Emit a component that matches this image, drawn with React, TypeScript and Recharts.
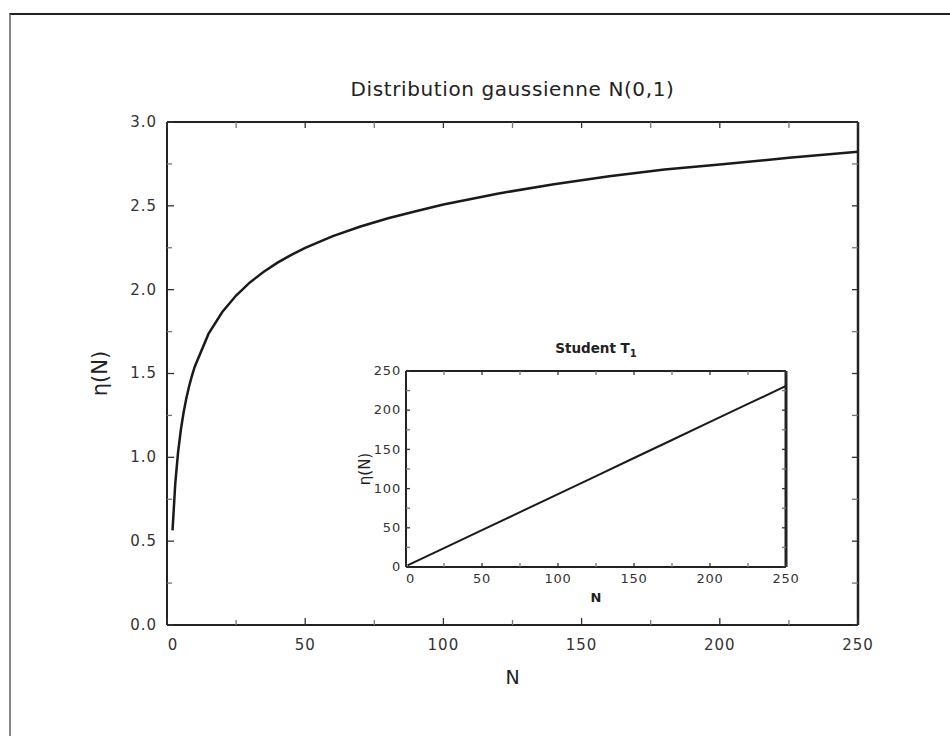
import React from 'react';
import { LineChart, Line, XAxis, YAxis, Label } from 'recharts';

// ---------- data ----------
const gaussN = [2, 3, 4, 5, 6, 7, 8, 9, 10, 15, 20, 25, 30, 35, 40, 45, 50, 60, 70, 80, 90, 100, 120, 140, 160, 180, 200, 225, 250];
const gaussEta = [0.564, 0.846, 1.029, 1.163, 1.267, 1.352, 1.424, 1.485, 1.539, 1.736, 1.867, 1.965, 2.043, 2.107, 2.161, 2.208, 2.249, 2.319, 2.377, 2.426, 2.468, 2.508, 2.574, 2.629, 2.676, 2.717, 2.746, 2.787, 2.822];

const studentN = [1, 25, 50, 75, 100, 125, 150, 175, 200, 225, 250];
const studentEta = [2, 24, 47, 70, 93, 116, 139, 162, 185, 208, 231];

const mainXTicks = [0, 25, 50, 75, 100, 125, 150, 175, 200, 225, 250];
const mainXLabelStep = 50;
const mainYTicks = [0, 0.25, 0.5, 0.75, 1, 1.25, 1.5, 1.75, 2, 2.25, 2.5, 2.75, 3];
const mainYLabelStep = 0.5;

const insetXTicks = [0, 25, 50, 75, 100, 125, 150, 175, 200, 225, 250];
const insetYTicks = [0, 25, 50, 75, 100, 125, 150, 175, 200, 225, 250];
const insetLabelStep = 50;

const mainTitle = 'Distribution gaussienne N(0,1)';
const yTitle = 'η(N)';
const xTitle = 'N';
const insetTitle = 'Student T';
const insetSub = '1';

const gaussData = gaussN.map((n, i) => ({ n, eta: gaussEta[i] }));
const studentData = studentN.map((n, i) => ({ n, eta: studentEta[i] }));

const FONT = "'DejaVu Sans', 'Liberation Sans', sans-serif";
const INK = '#222';
const TXT = '#333';

const isMajor = (v: number, step: number) => Math.abs(v / step - Math.round(v / step)) < 1e-9;

// ---------- tick renderers ----------
type TickOpts = {
  side: 'bottom' | 'top' | 'left' | 'right';
  step: number;
  major: number;
  minor: number;
  labels: boolean;
  fontSize: number;
  spacing: number;
  zeroShift: number;
  gap: number;
  decimals: number;
};

const makeTick = (o: TickOpts) => (props: any) => {
  const { x, y, payload } = props;
  const v: number = payload.value;
  const mj = isMajor(v, o.step);
  const len = mj ? o.major : o.minor;
  let line;
  if (o.side === 'bottom') line = { x1: x, y1: y, x2: x, y2: y - len };
  else if (o.side === 'top') line = { x1: x, y1: y, x2: x, y2: y + len };
  else if (o.side === 'left') line = { x1: x, y1: y, x2: x + len, y2: y };
  else line = { x1: x, y1: y, x2: x - len, y2: y };
  const txt = o.decimals > 0 ? v.toFixed(o.decimals) : String(v);
  return (
    <g>
      <line {...line} stroke={mj ? '#333' : '#777'} strokeWidth={1.3} />
      {o.labels && mj && o.side === 'bottom' && (
        <text
          x={x + (v === 0 ? o.zeroShift : 0)}
          y={y + o.gap}
          textAnchor="middle"
          fontFamily={FONT}
          fontSize={o.fontSize}
          letterSpacing={o.spacing}
          fill={TXT}
        >
          {txt}
        </text>
      )}
      {o.labels && mj && o.side === 'left' && (
        <text
          x={x - o.gap}
          y={y + o.fontSize * 0.33}
          textAnchor="end"
          fontFamily={FONT}
          fontSize={o.fontSize}
          letterSpacing={o.spacing}
          fill={TXT}
        >
          {txt}
        </text>
      )}
    </g>
  );
};

const MainBottomTick = makeTick({ side: 'bottom', step: mainXLabelStep, major: 7, minor: 5, labels: true, fontSize: 15, spacing: 1, zeroShift: 6, gap: 25, decimals: 0 });
const MainTopTick = makeTick({ side: 'top', step: mainXLabelStep, major: 6, minor: 6, labels: false, fontSize: 15, spacing: 1, zeroShift: 0, gap: 0, decimals: 0 });
const MainLeftTick = makeTick({ side: 'left', step: mainYLabelStep, major: 7, minor: 5, labels: true, fontSize: 15, spacing: 1, zeroShift: 0, gap: 10, decimals: 1 });
const MainRightTick = makeTick({ side: 'right', step: mainYLabelStep, major: 6, minor: 6, labels: false, fontSize: 15, spacing: 1, zeroShift: 0, gap: 0, decimals: 1 });

const InsetBottomTick = makeTick({ side: 'bottom', step: insetLabelStep, major: 4, minor: 4, labels: true, fontSize: 13, spacing: 0.8, zeroShift: 4.5, gap: 15.5, decimals: 0 });
const InsetTopTick = makeTick({ side: 'top', step: insetLabelStep, major: 4, minor: 4, labels: false, fontSize: 13, spacing: 0.8, zeroShift: 0, gap: 0, decimals: 0 });
const InsetLeftTick = makeTick({ side: 'left', step: insetLabelStep, major: 4, minor: 4, labels: true, fontSize: 13, spacing: 0.8, zeroShift: 0, gap: 5, decimals: 0 });
const InsetRightTick = makeTick({ side: 'right', step: insetLabelStep, major: 4, minor: 4, labels: false, fontSize: 13, spacing: 0.8, zeroShift: 0, gap: 0, decimals: 0 });

// ---------- label renderers ----------
const MainTitleLabel = (props: any) => {
  const vb = props.viewBox;
  return (
    <text x={vb.x + vb.width / 2} y={vb.y - 25} textAnchor="middle" fontFamily={FONT} fontSize={20} letterSpacing={0.6} fill={INK}>
      {mainTitle}
    </text>
  );
};
const MainXLabel = (props: any) => {
  const vb = props.viewBox;
  return (
    <text x={vb.x + vb.width / 2} y={vb.y + 59} textAnchor="middle" fontFamily={FONT} fontSize={19} fill={INK}>
      {xTitle}
    </text>
  );
};
const MainYLabel = (props: any) => {
  const vb = props.viewBox;
  const cx = vb.x - 66;
  const cy = vb.y + vb.height / 2;
  return (
    <text x={cx} y={cy} transform={`rotate(-90 ${cx} ${cy})`} textAnchor="middle" dominantBaseline="central" fontFamily={FONT} fontSize={21} fill={INK}>
      {yTitle}
    </text>
  );
};
const InsetTitleLabel = (props: any) => {
  const vb = props.viewBox;
  return (
    <text x={vb.x + vb.width / 2} y={vb.y - 17} textAnchor="middle" fontFamily={FONT} fontSize={13.5} fontWeight="bold" fill={INK}>
      {insetTitle}
      <tspan fontSize={10} dy={4}>{insetSub}</tspan>
    </text>
  );
};
const InsetXLabel = (props: any) => {
  const vb = props.viewBox;
  return (
    <text x={vb.x + vb.width / 2} y={vb.y + 35} textAnchor="middle" fontFamily={FONT} fontSize={13} fontWeight="bold" fill={INK}>
      {xTitle}
    </text>
  );
};
const InsetYLabel = (props: any) => {
  const vb = props.viewBox;
  const cx = vb.x - 40;
  const cy = vb.y + vb.height / 2;
  return (
    <text x={cx} y={cy} transform={`rotate(-90 ${cx} ${cy})`} textAnchor="middle" dominantBaseline="central" fontFamily={FONT} fontSize={15} fill={INK}>
      {yTitle}
    </text>
  );
};

const W = 950;
const H = 736;

export default function App() {
  return (
    <div style={{ position: 'absolute', left: 0, top: 0, width: W, height: H, overflow: 'hidden', background: '#fff' }}>
      <div
        style={{
          position: 'absolute',
          left: 9,
          top: 13,
          width: 1000,
          height: 800,
          borderTop: '2px solid #222',
          borderLeft: '2px solid #888',
        }}
      />
      <div style={{ position: 'absolute', left: 0, top: 0 }}>
        <LineChart width={W} height={H} data={gaussData} margin={{ top: 121, right: 91, bottom: 110, left: 166 }}>
          <XAxis xAxisId="b" dataKey="n" type="number" orientation="bottom" domain={[0, 250]} allowDataOverflow ticks={mainXTicks} interval={0} height={1} tickSize={0} tickMargin={0} tickLine={false} tick={MainBottomTick} axisLine={{ stroke: INK, strokeWidth: 2 }}>
            <Label content={MainXLabel} />
          </XAxis>
          <XAxis xAxisId="t" dataKey="n" type="number" orientation="top" domain={[0, 250]} allowDataOverflow ticks={mainXTicks} interval={0} height={1} tickSize={0} tickMargin={0} tickLine={false} tick={MainTopTick} axisLine={{ stroke: INK, strokeWidth: 2 }}>
            <Label content={MainTitleLabel} />
          </XAxis>
          <YAxis yAxisId="l" type="number" orientation="left" domain={[0, 3]} allowDataOverflow ticks={mainYTicks} interval={0} width={1} tickSize={0} tickMargin={0} tickLine={false} tick={MainLeftTick} axisLine={{ stroke: INK, strokeWidth: 2 }}>
            <Label content={MainYLabel} />
          </YAxis>
          <YAxis yAxisId="r" type="number" orientation="right" domain={[0, 3]} allowDataOverflow ticks={mainYTicks} interval={0} width={1} tickSize={0} tickMargin={0} tickLine={false} tick={MainRightTick} axisLine={{ stroke: INK, strokeWidth: 2.5 }} />
          <Line xAxisId="b" yAxisId="l" dataKey="eta" type="linear" dot={false} stroke="#1a1a1a" strokeWidth={2.5} isAnimationActive={false} />
        </LineChart>
      </div>
      <div style={{ position: 'absolute', left: 0, top: 0 }}>
        <LineChart width={W} height={H} data={studentData} margin={{ top: 370, right: 163, bottom: 168, left: 405 }}>
          <XAxis xAxisId="b" dataKey="n" type="number" orientation="bottom" domain={[0, 250]} allowDataOverflow ticks={insetXTicks} interval={0} height={1} tickSize={0} tickMargin={0} tickLine={false} tick={InsetBottomTick} axisLine={{ stroke: INK, strokeWidth: 2 }}>
            <Label content={InsetXLabel} />
          </XAxis>
          <XAxis xAxisId="t" dataKey="n" type="number" orientation="top" domain={[0, 250]} allowDataOverflow ticks={insetXTicks} interval={0} height={1} tickSize={0} tickMargin={0} tickLine={false} tick={InsetTopTick} axisLine={{ stroke: INK, strokeWidth: 2 }}>
            <Label content={InsetTitleLabel} />
          </XAxis>
          <YAxis yAxisId="l" type="number" orientation="left" domain={[0, 250]} allowDataOverflow ticks={insetYTicks} interval={0} width={1} tickSize={0} tickMargin={0} tickLine={false} tick={InsetLeftTick} axisLine={{ stroke: INK, strokeWidth: 2 }}>
            <Label content={InsetYLabel} />
          </YAxis>
          <YAxis yAxisId="r" type="number" orientation="right" domain={[0, 250]} allowDataOverflow ticks={insetYTicks} interval={0} width={1} tickSize={0} tickMargin={0} tickLine={false} tick={InsetRightTick} axisLine={{ stroke: INK, strokeWidth: 3 }} />
          <Line xAxisId="b" yAxisId="l" dataKey="eta" type="linear" dot={false} stroke="#1a1a1a" strokeWidth={2} isAnimationActive={false} />
        </LineChart>
      </div>
    </div>
  );
}
